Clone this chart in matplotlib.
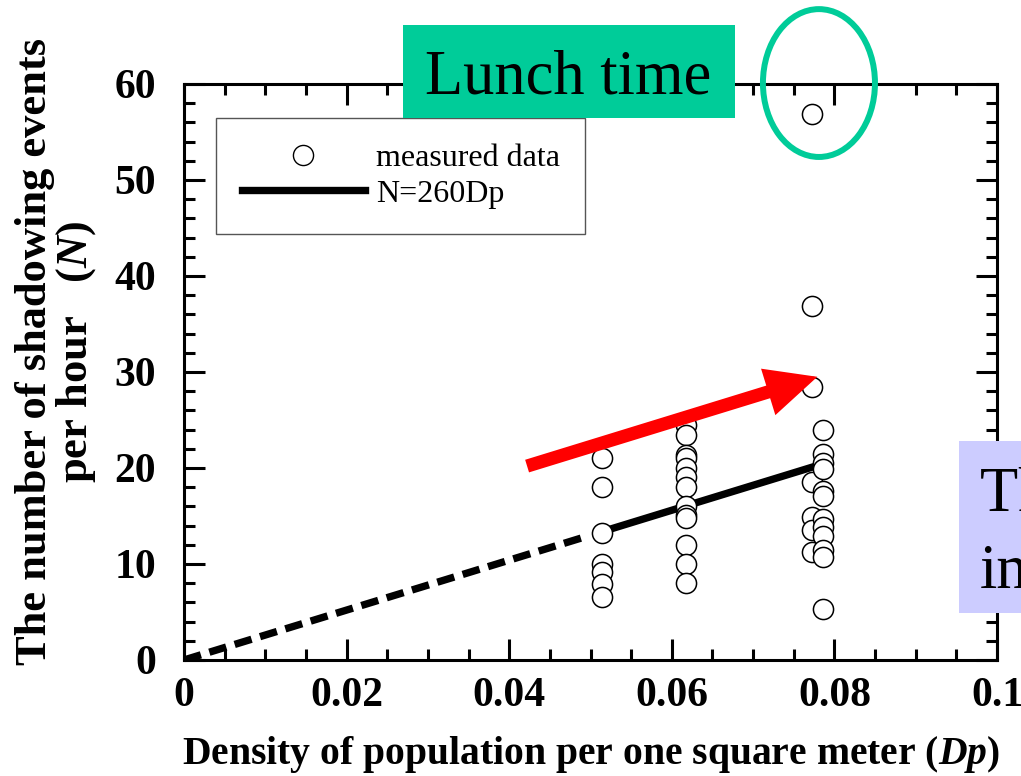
import numpy as np
import matplotlib
matplotlib.use('Agg')
import matplotlib.pyplot as plt
from matplotlib.patches import Ellipse, Rectangle, FancyArrowPatch, ArrowStyle
from matplotlib.lines import Line2D
from matplotlib.ticker import MultipleLocator, FixedLocator, FixedFormatter

plt.rcParams['font.family'] = 'Liberation Serif'
plt.rcParams['mathtext.fontset'] = 'custom'
plt.rcParams['mathtext.rm'] = 'Liberation Serif'
plt.rcParams['mathtext.it'] = 'Liberation Serif:italic'
plt.rcParams['mathtext.bf'] = 'Liberation Serif:bold'
plt.rcParams['mathtext.bfit'] = 'Liberation Serif:italic:bold'

# measured shadowing events per hour, grouped by population density
dp_a = 0.0514
n_a = [21.0, 18.0, 13.2, 10.0, 9.2, 7.9, 6.6]
dp_b = 0.0617
n_b = [24.5, 23.4, 21.4, 21.0, 20.0, 19.1, 18.0, 16.0, 15.1, 14.8, 12.0, 10.0, 8.0]
dp_c = 0.0772
n_c = [56.9, 36.9, 28.4, 18.5, 14.9, 13.5, 11.3]
dp_d = 0.0786
n_d = [24.0, 21.5, 20.5, 19.9, 17.6, 17.1, 14.7, 13.9, 12.9, 11.5, 10.7, 5.3]

# fitted line N = 260 Dp (dashed where extrapolated)
slope = 260
dash_dp = [0.0, 0.049]
fit_dp = [0.0514, 0.0617, 0.0776]

# trend arrow (Dp, N)
arrow_from = (0.0422, 20.2)
arrow_to = (0.0779, 29.5)

xticks = [0, 0.02, 0.04, 0.06, 0.08, 0.1]
xticklabels = ['0', '0.02', '0.04', '0.06', '0.08', '0.1']
yticks = [0, 10, 20, 30, 40, 50, 60]

green = '#00CC99'
lavender = '#CCCCFF'

fig = plt.figure(figsize=(10.21, 7.76), dpi=100)
ax = fig.add_axes([184/1021, 116/776, 813/1021, 576/776])

ax.plot(dash_dp, slope*np.array(dash_dp), color='black', lw=5.3,
        ls=(0, (2.4, 1.2)), dash_capstyle='butt', zorder=2)
ax.plot(fit_dp, slope*np.array(fit_dp), color='black', lw=5.3,
        solid_capstyle='butt', zorder=2)

for dp, n in [(dp_a, n_a), (dp_b, n_b), (dp_c, n_c), (dp_d, n_d)]:
    ax.plot([dp]*len(n), n, 'o', ls='none', ms=14.5, mfc='white',
            mec='black', mew=1.1, zorder=3)

arrow = FancyArrowPatch(arrow_from, arrow_to,
                        arrowstyle=ArrowStyle.Simple(head_length=37, head_width=35, tail_width=9.5),
                        mutation_scale=1, shrinkA=0, shrinkB=0,
                        color='red', lw=0, zorder=6, clip_on=False)
ax.add_patch(arrow)

# ring round the lunch-time point
ax.add_patch(Ellipse((0.0781, 60.1), 0.01378, 15.4, fill=False,
                     edgecolor=green, lw=4.3, zorder=7, clip_on=False))

ax.set_xlim(0, 0.1)
ax.set_ylim(0, 60)
ax.xaxis.set_major_locator(FixedLocator(xticks))
ax.xaxis.set_major_formatter(FixedFormatter(xticklabels))
ax.xaxis.set_minor_locator(MultipleLocator(0.005))
ax.yaxis.set_major_locator(FixedLocator(yticks))
ax.yaxis.set_minor_locator(MultipleLocator(2))

ax.tick_params(which='both', direction='in', top=True, right=True, width=2.2)
ax.tick_params(which='major', length=15, labelsize=30)
ax.tick_params(which='minor', length=8)
ax.tick_params(axis='x', pad=12)
ax.tick_params(axis='y', pad=20)
plt.setp(ax.get_xticklabels() + ax.get_yticklabels(), fontweight='bold')
for s in ax.spines.values():
    s.set_linewidth(2.2)

ax.set_xlabel(r'Density of population per one square meter ($\mathbfit{Dp}$)',
              fontsize=28.5, fontweight='bold', labelpad=14)
ax.set_ylabel('The number of shadowing events\nper hour   ($\\mathbfit{N}$)',
              fontsize=32, fontweight='bold', labelpad=12, linespacing=0.95,
              y=0.535)

handles = [Line2D([], [], marker='o', ls='none', ms=14.5, mfc='white', mec='black', mew=1.0),
           Line2D([], [], color='black', lw=5.3)]
leg = ax.legend(handles, ['measured data', 'N=260Dp'], loc='upper left',
                bbox_to_anchor=(216/1021, 1 - 118/776), bbox_transform=fig.transFigure,
                borderaxespad=0, fontsize=23, fancybox=False, framealpha=1,
                edgecolor='#555555', handlelength=3.85, handletextpad=0.35,
                borderpad=0.8, labelspacing=0.2)
leg.get_frame().set_linewidth(1.0)

# callout boxes
fig.add_artist(Rectangle((403/1021, 1 - 118/776), 332/1021, 93/776,
                         transform=fig.transFigure, facecolor=green,
                         edgecolor='none', zorder=4))
fig.text(568/1021, 1 - 93/776, 'Lunch time', ha='center', va='baseline',
         fontsize=45, zorder=5)

fig.add_artist(Rectangle((959/1021, 1 - 613/776), 70/1021, 172/776,
                         transform=fig.transFigure, facecolor=lavender,
                         edgecolor='none', zorder=4))
fig.text(980/1021, 1 - 512/776, 'The number', ha='left', va='baseline',
         fontsize=45, zorder=5)
fig.text(980/1021, 1 - 587/776, 'increases', ha='left', va='baseline',
         fontsize=45, zorder=5)

fig.savefig('out.png', dpi=100)
